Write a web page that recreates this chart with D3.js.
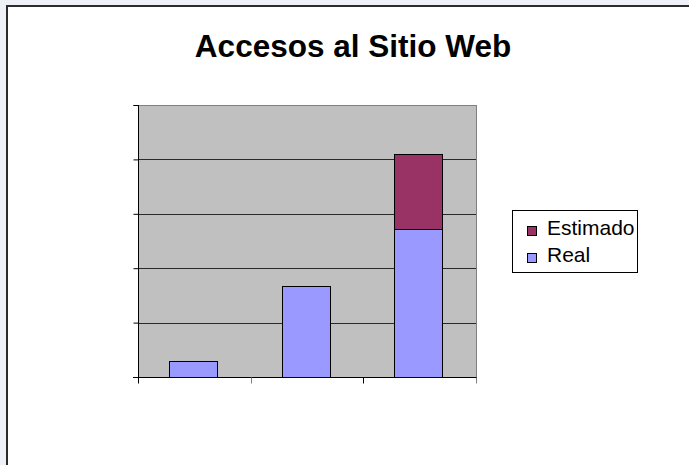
<!DOCTYPE html>
<html>
<head>
<meta charset="utf-8">
<script src="https://cdn.jsdelivr.net/npm/d3@7/dist/d3.min.js"></script>
<style>
  html, body { margin: 0; padding: 0; background: #eef2f8; }
  svg { display: block; }
</style>
</head>
<body>
<svg id="chart" width="689" height="465"></svg>
<script>
const title = "Accesos al Sitio Web";
const categories = ["Periodo 1", "Periodo 2", "Periodo 3"];
const seriesNames = ["Real", "Estimado"];
const realValues = [300, 1680, 2720];
const estimadoValues = [0, 0, 1380];
const yTicks = [0, 1000, 2000, 3000, 4000, 5000];
const colors = { Real: "#9999ff", Estimado: "#993366" };

const svg = d3.select("#chart");

// chart frame (extends past the window edges)
svg.append("rect")
  .attr("x", 7).attr("y", 6)
  .attr("width", 720).attr("height", 500)
  .attr("fill", "#ffffff")
  .attr("stroke", "#2b2b2b")
  .attr("stroke-width", 2);

const plot = { left: 138, right: 476, top: 105, bottom: 377 };

const x = d3.scaleBand().domain(categories).range([plot.left, plot.right]).padding(0);
const y = d3.scaleLinear().domain([0, 5000]).range([plot.bottom, plot.top]);

// plot area
svg.append("rect")
  .attr("x", plot.left).attr("y", plot.top)
  .attr("width", plot.right - plot.left).attr("height", plot.bottom - plot.top)
  .attr("fill", "#c0c0c0");

// gridlines
svg.append("g").selectAll("line").data(yTicks.filter(d => d > 0 && d < 5000)).join("line")
  .attr("x1", plot.left).attr("x2", plot.right)
  .attr("y1", d => Math.round(y(d)) + 0.5).attr("y2", d => Math.round(y(d)) + 0.5)
  .attr("stroke", "#2a2a2a").attr("stroke-width", 1);

// top & right border of plot area
svg.append("line")
  .attr("x1", plot.left - 5).attr("x2", plot.right + 0.5)
  .attr("y1", plot.top + 0.5).attr("y2", plot.top + 0.5)
  .attr("stroke", "#808080");
svg.append("line")
  .attr("x1", plot.right + 0.5).attr("x2", plot.right + 0.5)
  .attr("y1", plot.top).attr("y2", plot.bottom)
  .attr("stroke", "#808080");

// stacked bars
const stackData = categories.map((c, i) => ({ cat: c, Real: realValues[i], Estimado: estimadoValues[i] }));
const stacked = d3.stack().keys(seriesNames)(stackData);
const barW = x.bandwidth() * 0.43;

svg.append("g").selectAll("g").data(stacked).join("g")
  .attr("fill", d => colors[d.key])
  .selectAll("rect").data(d => d.filter(p => p[1] - p[0] > 0)).join("rect")
  .attr("x", d => Math.round(x(d.data.cat) + (x.bandwidth() - barW) / 2) - 0.5)
  .attr("width", Math.round(barW))
  .attr("y", d => Math.round(y(d[1])) + 0.5)
  .attr("height", d => Math.round(y(d[0])) - Math.round(y(d[1])))
  .attr("stroke", "#000").attr("stroke-width", 1);

// y axis (no labels)
const yAxis = d3.axisLeft(y).tickValues(yTicks).tickSize(5).tickFormat("");
const gy = svg.append("g").attr("transform", `translate(${plot.left + 0.5},0)`).call(yAxis);
gy.select(".domain").attr("stroke", "#000").attr("d", `M0,${plot.top}V${plot.bottom}`);
gy.selectAll(".tick line").attr("stroke", "#000");

// x axis (no labels), ticks at category boundaries
const gx = svg.append("g").attr("transform", `translate(0,${plot.bottom + 0.5})`);
gx.append("line").attr("x1", plot.left - 5).attr("x2", plot.right + 1).attr("stroke", "#000");
const bounds = categories.map(c => x(c)).concat([x(categories[categories.length - 1]) + x.bandwidth()]);
gx.selectAll("line.tk").data(bounds).join("line").attr("class", "tk")
  .attr("x1", d => Math.round(d) + 0.5).attr("x2", d => Math.round(d) + 0.5)
  .attr("y1", 0).attr("y2", 6)
  .attr("stroke", (d, i) => i === 0 || i === 2 ? "#000" : "#808080");

// title
svg.append("text")
  .attr("x", 353).attr("y", 57)
  .attr("text-anchor", "middle")
  .attr("font-family", "Liberation Sans, Arial, sans-serif")
  .attr("font-weight", "bold")
  .attr("font-size", 31.5)
  .attr("fill", "#000")
  .text(title);

// legend
const lg = svg.append("g");
lg.append("rect")
  .attr("x", 512.5).attr("y", 210.5).attr("width", 125).attr("height", 62)
  .attr("fill", "#fff").attr("stroke", "#000");
const legendItems = ["Estimado", "Real"];
legendItems.forEach((name, i) => {
  const yy = 226 + i * 27;
  lg.append("rect")
    .attr("x", 527.5).attr("y", yy + 0.5).attr("width", 9).attr("height", 9)
    .attr("fill", colors[name]).attr("stroke", "#000");
  lg.append("text")
    .attr("x", 547).attr("y", yy + 9)
    .attr("font-family", "Liberation Sans, Arial, sans-serif")
    .attr("font-size", 21)
    .attr("fill", "#000")
    .text(name);
});
</script>
</body>
</html>
